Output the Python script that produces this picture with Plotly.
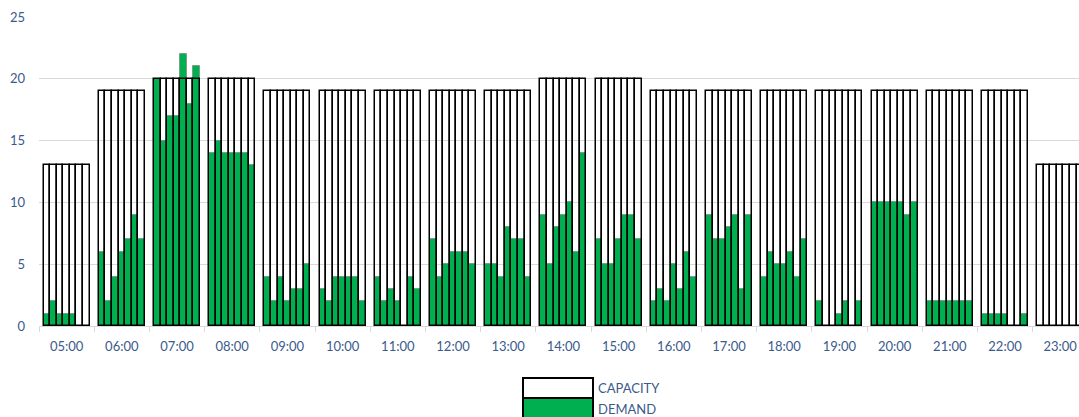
import plotly.graph_objects as go

hours = ["05:00", "06:00", "07:00", "08:00", "09:00", "10:00", "11:00", "12:00",
         "13:00", "14:00", "15:00", "16:00", "17:00", "18:00", "19:00", "20:00",
         "21:00", "22:00", "23:00"]

capacity = [13, 19, 20, 20, 19, 19, 19, 19, 19, 20, 20, 19, 19, 19, 19, 19, 19, 19, 13]

demand = [
    [1, 2, 1, 1, 1, 0, 0],
    [6, 2, 4, 6, 7, 9, 7],
    [20, 15, 17, 17, 22, 18, 21],
    [14, 15, 14, 14, 14, 14, 13],
    [4, 2, 4, 2, 3, 3, 5],
    [3, 2, 4, 4, 4, 4, 2],
    [4, 2, 3, 2, 0, 4, 3],
    [7, 4, 5, 6, 6, 6, 5],
    [5, 5, 4, 8, 7, 7, 4],
    [9, 5, 8, 9, 10, 6, 14],
    [7, 5, 5, 7, 9, 9, 7],
    [2, 3, 2, 5, 3, 6, 4],
    [9, 7, 7, 8, 9, 3, 9],
    [4, 6, 5, 5, 6, 4, 7],
    [2, 0, 0, 1, 2, 0, 2],
    [10, 10, 10, 10, 10, 9, 10],
    [2, 2, 2, 2, 2, 2, 2],
    [1, 1, 1, 1, 0, 0, 1],
    [0, 0, 0, 0, 0, 0, 0],
]

SLOTS = 7
W = 0.119  # bar pitch in hour units

xs, cap_y, dem_y = [], [], []
for g, (cap, dem) in enumerate(zip(capacity, demand)):
    for i in range(SLOTS):
        xs.append(g + (i - (SLOTS - 1) / 2) * W)
        cap_y.append(cap)
        dem_y.append(dem[i])

TXT = "#3A5A8C"
GRID = "#D9D9D9"

fig = go.Figure()
fig.add_trace(go.Bar(
    x=xs, y=dem_y, width=W, name="DEMAND",
    marker=dict(color="#00B050", line=dict(color="rgba(120,120,120,0.6)", width=1)),
    showlegend=False,
))
fig.add_trace(go.Bar(
    x=xs, y=cap_y, width=W, name="CAPACITY",
    marker=dict(color="rgba(0,0,0,0)", line=dict(color="black", width=1.5)),
    showlegend=False,
))

FW, FH = 1079, 417
L, T, B = 39, 17, 91
PW, PH = FW - L, FH - T - B
pitch = 55.2

def px(x):
    return (x - L) / PW

def py(y):
    return (FH - B - y) / PH

shapes = [
    dict(type="rect", xref="paper", yref="paper", x0=px(523), x1=px(593), y0=py(398), y1=py(378),
         fillcolor="white", line=dict(color="black", width=2)),
    dict(type="rect", xref="paper", yref="paper", x0=px(523), x1=px(593), y0=py(420), y1=py(398),
         fillcolor="#00B050", line=dict(color="black", width=2)),
]
annotations = [
    dict(text="CAPACITY", xref="paper", yref="paper", x=px(596), y=py(388), xanchor="left",
         yanchor="middle", showarrow=False, font=dict(size=13, color=TXT)),
    dict(text="DEMAND", xref="paper", yref="paper", x=px(596), y=py(409), xanchor="left",
         yanchor="middle", showarrow=False, font=dict(size=13, color=TXT)),
]

fig.update_layout(
    width=FW, height=FH, autosize=False,
    margin=dict(l=L, r=0, t=T, b=B, pad=0),
    barmode="overlay", bargap=0,
    plot_bgcolor="white", paper_bgcolor="white",
    font=dict(family="Lato, 'Open Sans', sans-serif", size=13, color=TXT),
    shapes=shapes, annotations=annotations,
    xaxis=dict(
        range=[-0.5, -0.5 + PW / pitch],
        tickmode="array", tickvals=list(range(len(hours))), ticktext=hours,
        ticks="", showgrid=False, zeroline=False,
        showline=True, linecolor=GRID, linewidth=1,
        ticklabelstandoff=8,
        minor=dict(tickmode="array", tickvals=[g - 0.5 for g in range(len(hours) + 1)],
                   ticks="outside", ticklen=5, tickcolor=GRID, tickwidth=1, showgrid=False),
        tickfont=dict(size=13, color=TXT),
    ),
    yaxis=dict(
        range=[0, 25], tickvals=[0, 5, 10, 15, 20, 25],
        showgrid=True, gridcolor=GRID, gridwidth=1, zeroline=False,
        ticks="", ticklabelstandoff=13, showline=False,
        tickfont=dict(size=13, color=TXT),
    ),
)

fig.write_html(
    "out.html",
    config={"displayModeBar": False},
    post_script="document.body.style.margin='0';document.body.style.overflow='hidden';",
)
